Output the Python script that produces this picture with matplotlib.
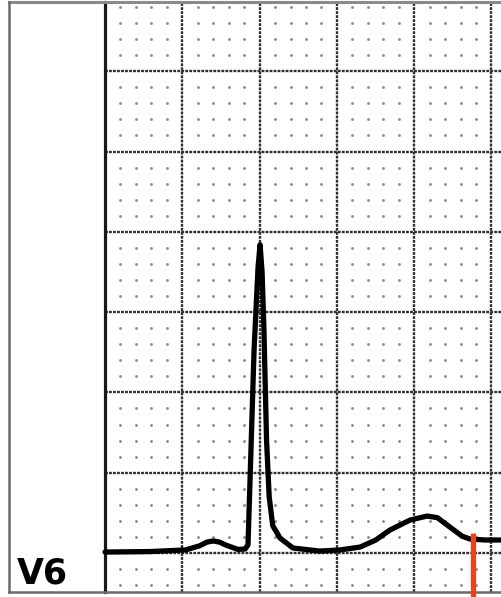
import matplotlib
matplotlib.use("Agg")
import matplotlib.pyplot as plt
import numpy as np

# ECG trace (time in mm of paper, amplitude in mm)
trace_t = [0.0, 2.9, 5.2, 6.1, 6.6, 7.0, 7.4, 7.8, 8.6, 9.06, 9.25, 9.38, 9.64, 9.9, 10.03,
           10.16, 10.28, 10.45, 10.62, 10.85, 11.32, 12.16, 13.9, 15.2, 16.5, 17.5, 18.43, 19.73,
           20.83, 21.5, 22.3, 23.1, 23.6, 24.58, 25.7]
trace_mv = [0.06, 0.09, 0.19, 0.44, 0.68, 0.75, 0.68, 0.5, 0.22, 0.25, 0.5, 4.5, 12.6, 17.8, 19.2,
            17.5, 13.9, 7.0, 3.5, 1.7, 0.93, 0.31, 0.12, 0.19, 0.37, 0.8, 1.43, 2.05,
            2.3, 2.2, 1.62, 1.05, 0.87, 0.81, 0.81]
lead_label = "V6"
marker_t = 23.8
marker_top = 1.25

PXX = 15.46   # px per mm horizontally
PXY = 16.06   # px per mm vertically
W, H = 502, 597
X0, Y0 = 105, 553

fig = plt.figure(figsize=(W / 100, H / 100), dpi=100)
ax = fig.add_axes([0, 0, 1, 1])
ax.set_xlim((0 - X0) / PXX, (W - X0) / PXX)
ax.set_ylim((Y0 - H) / PXY, Y0 / PXY)
ax.axis("off")

top = (Y0 - 2) / PXY
bot = (Y0 - 592) / PXY
left = (9 - X0) / PXX
right = (W - X0) / PXX

# dots
xs = [x for x in range(1, 26) if x % 5]
ys = [y for y in range(-2, 35) if y % 5]
gx, gy = np.meshgrid(xs, ys)
ax.plot(gx.ravel(), gy.ravel(), ls="none", marker="o", ms=2.1, mfc="#8f8f8f",
        mec="none", zorder=1)

# major grid lines
for x in range(5, 26, 5):
    ax.plot([x, x], [bot, top], color="#303030", lw=1.7, ls=(0, (1.2, 0.5)), zorder=2)
for y in range(0, 35, 5):
    ax.plot([0, right], [y, y], color="#303030", lw=1.7, ls=(0, (1.2, 0.5)), zorder=2)
ax.plot([0, 0], [bot, top], color="#1a1a1a", lw=2.3, zorder=3)

# frame
ax.plot([left, right], [top, top], color="#8a8a8a", lw=2.2, zorder=3)
ax.plot([left, right], [bot, bot], color="#6a6a6a", lw=1.8, zorder=3)
ax.plot([left, left], [bot, top], color="#6a6a6a", lw=1.8, zorder=3)

# trace
ax.plot(trace_t, trace_mv, color="black", lw=3.8, solid_joinstyle="round",
        solid_capstyle="round", zorder=5)

# red marker
ax.plot([marker_t, marker_t], [marker_top, (Y0 - H) / PXY - 1], color="#e8441c",
        lw=3.8, solid_capstyle="butt", zorder=6)

ax.text((17 - X0) / PXX, (Y0 - 584) / PXY, lead_label, fontsize=25, fontweight="bold",
        family="DejaVu Sans", ha="left", va="baseline", color="black", zorder=6)

fig.savefig("out.png", dpi=100)
